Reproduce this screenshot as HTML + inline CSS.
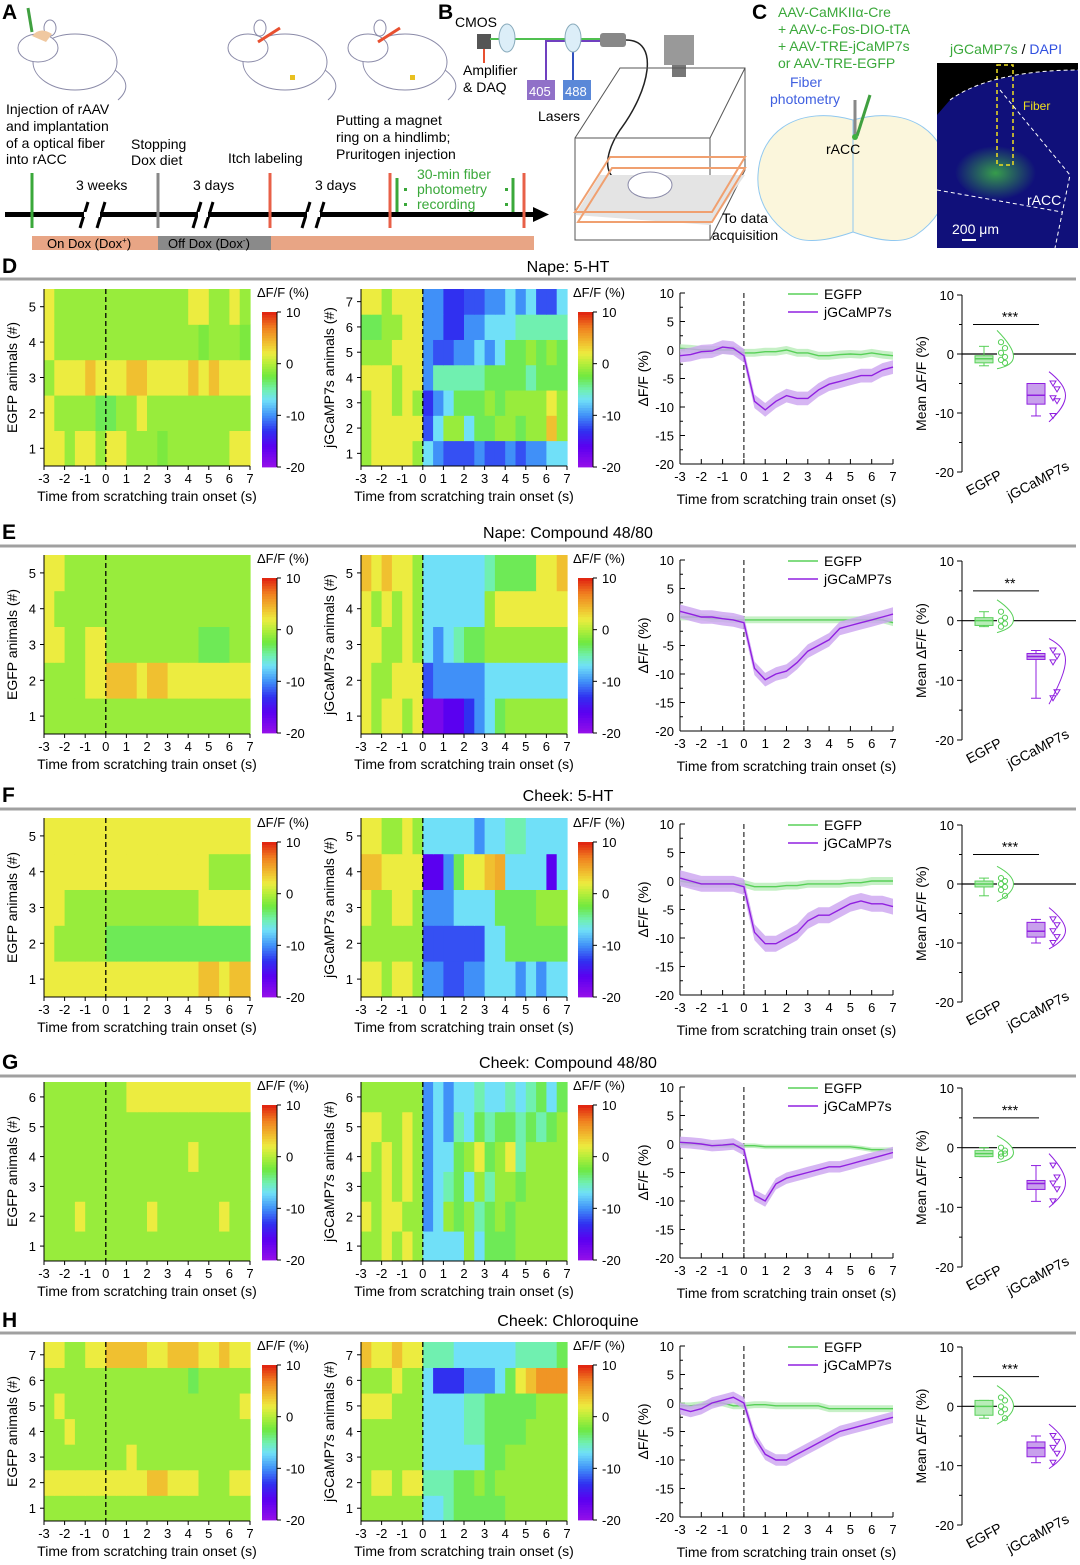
<!DOCTYPE html>
<html><head><meta charset="utf-8"><style>
html,body{margin:0;padding:0;background:#fff;}
svg{display:block;font-family:"Liberation Sans",Arial,sans-serif;}
</style></head><body>
<svg id="fig" width="1080" height="1565" viewBox="0 0 1080 1565" xmlns="http://www.w3.org/2000/svg">
<defs>
<radialGradient id="glow" cx="0.45" cy="0.55" r="0.45"><stop offset="0" stop-color="#40c040" stop-opacity="0.8"/><stop offset="1" stop-color="#40c040" stop-opacity="0"/></radialGradient>
</defs>
<!-- Panel A -->
<g font-size="14">
<text x="2" y="19" font-size="21" font-weight="bold">A</text>
<g fill="#fff" stroke="#8a8aa8" stroke-width="1">
<ellipse cx="75" cy="62" rx="42" ry="28"/><ellipse cx="38" cy="48" rx="20" ry="14"/><ellipse cx="50" cy="28" rx="6" ry="8"/><path d="M115 70 Q135 85 118 100" fill="none"/>
<path d="M32 36 q8 -10 20 -2 l-6 8 z" fill="#f0c8a0" stroke="none"/><line x1="28" y1="8" x2="32" y2="32" stroke="#40a040" stroke-width="3"/></g>
<g fill="#fff" stroke="#8a8aa8" stroke-width="1">
<ellipse cx="285" cy="62" rx="42" ry="28"/><ellipse cx="248" cy="48" rx="20" ry="14"/><ellipse cx="260" cy="28" rx="6" ry="8"/><path d="M325 70 Q345 85 328 100" fill="none"/>
<line x1="258" y1="42" x2="280" y2="28" stroke="#e85030" stroke-width="3"/><rect x="290" y="75" width="5" height="5" fill="#e8c020" stroke="none"/></g>
<g fill="#fff" stroke="#8a8aa8" stroke-width="1">
<ellipse cx="405" cy="62" rx="42" ry="28"/><ellipse cx="368" cy="48" rx="20" ry="14"/><ellipse cx="380" cy="28" rx="6" ry="8"/><path d="M445 70 Q465 85 448 100" fill="none"/>
<line x1="378" y1="42" x2="400" y2="28" stroke="#e85030" stroke-width="3"/><rect x="410" y="75" width="5" height="5" fill="#e8c020" stroke="none"/></g>
<text x="6" y="114">Injection of rAAV</text><text x="6" y="131">and implantation</text><text x="6" y="148">of a optical fiber</text><text x="6" y="164">into rACC</text>
<text x="131" y="149">Stopping</text><text x="131" y="165">Dox diet</text>
<text x="228" y="163">Itch labeling</text>
<text x="336" y="125">Putting a magnet</text><text x="336" y="142">ring on a hindlimb;</text><text x="336" y="159">Pruritogen injection</text>
<text x="76" y="190">3 weeks</text><text x="193" y="190">3 days</text><text x="315" y="190">3 days</text>
<g fill="#3aa83a"><text x="417" y="179">30-min fiber</text><text x="417" y="194">photometry</text><text x="417" y="209">recording</text>
<rect x="404" y="188" width="3" height="3"/><rect x="404" y="203" width="3" height="3"/><rect x="505" y="188" width="3" height="3"/><rect x="505" y="203" width="3" height="3"/></g>
<rect x="5" y="212" width="530" height="5" fill="#000"/>
<polygon points="533,207 549,214.5 533,222" fill="#000"/>
<g stroke="#000" stroke-width="3"><line x1="80" y1="228" x2="88" y2="202"/><line x1="97" y1="228" x2="105" y2="202"/><line x1="193" y1="228" x2="201" y2="202"/><line x1="205" y1="228" x2="213" y2="202"/><line x1="302" y1="228" x2="310" y2="202"/><line x1="316" y1="228" x2="324" y2="202"/></g>
<g stroke="#fff" stroke-width="5"><line x1="84" y1="214.5" x2="100" y2="214.5"/><line x1="198" y1="214.5" x2="208" y2="214.5"/><line x1="307" y1="214.5" x2="320" y2="214.5"/></g>
<g stroke-width="3"><line x1="32" y1="173" x2="32" y2="228" stroke="#3aa83a"/><line x1="158" y1="173" x2="158" y2="228" stroke="#888"/><line x1="270" y1="173" x2="270" y2="228" stroke="#e86048"/><line x1="390" y1="173" x2="390" y2="228" stroke="#e86048"/><line x1="397" y1="178" x2="397" y2="212" stroke="#3aa83a"/><line x1="513" y1="178" x2="513" y2="212" stroke="#3aa83a"/><line x1="524" y1="173" x2="524" y2="228" stroke="#e86048"/></g>
<rect x="32" y="236" width="502" height="14" fill="#e8a585"/>
<rect x="158" y="236" width="113" height="14" fill="#8a8a8a"/>
<text x="47" y="248" font-size="13">On Dox (Dox<tspan font-size="8" dy="-5">+</tspan><tspan dy="5">)</tspan></text>
<text x="168" y="248" font-size="13">Off Dox (Dox<tspan font-size="8" dy="-5">-</tspan><tspan dy="5">)</tspan></text>
</g>
<!-- Panel B -->
<g font-size="14">
<text x="438" y="19" font-size="21" font-weight="bold">B</text>
<text x="455" y="27">CMOS</text>
<rect x="477" y="34" width="14" height="15" fill="#555"/>
<line x1="484" y1="49" x2="484" y2="63" stroke="#e85030" stroke-width="2"/>
<line x1="490" y1="39" x2="600" y2="39" stroke="#50c050" stroke-width="2"/>
<polyline points="600,41 546,41 546,80" fill="none" stroke="#7040c0" stroke-width="2"/>
<line x1="573" y1="42" x2="573" y2="80" stroke="#3050c0" stroke-width="2"/>
<ellipse cx="507" cy="38" rx="8" ry="14" fill="#dceef8" stroke="#8ab"/><ellipse cx="573" cy="38" rx="8" ry="14" fill="#dceef8" stroke="#8ab"/>
<rect x="600" y="33" width="26" height="14" rx="3" fill="#888"/>
<path d="M626 40 C660 40 650 90 620 130 C600 160 605 185 630 180" fill="none" stroke="#222" stroke-width="1.5"/>
<text x="463" y="75">Amplifier</text><text x="463" y="92">&amp; DAQ</text>
<rect x="527" y="80" width="28" height="20" fill="#9070c8"/><text x="529" y="96" fill="#fff" font-size="13">405</text>
<rect x="563" y="80" width="28" height="20" fill="#5a88d8"/><text x="565" y="96" fill="#fff" font-size="13">488</text>
<text x="538" y="121">Lasers</text>
<rect x="664" y="35" width="30" height="30" fill="#999"/><rect x="672" y="65" width="14" height="12" fill="#777"/>
<g fill="none" stroke="#555" stroke-width="1"><rect x="575" y="138" width="135" height="102"/><polyline points="575,138 620,68 745,68 745,170 710,240"/><line x1="710" y1="138" x2="745" y2="68"/></g>
<polygon points="575,215 600,175 745,175 710,225" fill="#e4e4e4"/>
<g fill="none" stroke="#f0a070" stroke-width="2"><polygon points="575,212 610,157 745,157 712,212"/><polygon points="578,222 612,168 745,168 712,222"/></g>
<ellipse cx="650" cy="185" rx="22" ry="13" fill="#fff" stroke="#8a8aa8"/>
<text x="722" y="223">To data</text><text x="712" y="240">acquisition</text>
</g>
<!-- Panel C -->
<g font-size="14">
<text x="752" y="19" font-size="21" font-weight="bold">C</text>
<g fill="#3aa83a"><text x="778" y="17">AAV-CaMKIIα-Cre</text><text x="778" y="34">+ AAV-c-Fos-DIO-tTA</text><text x="778" y="51">+ AAV-TRE-jCaMP7s</text><text x="778" y="68">or  AAV-TRE-EGFP</text></g>
<g fill="#4060e0"><text x="790" y="87">Fiber</text><text x="770" y="104">photometry</text></g>
<path d="M853 120 C800 105 760 130 758 175 C756 205 775 225 790 235 C805 245 830 240 853 232 C876 240 901 245 916 235 C931 225 950 205 948 175 C946 130 906 105 853 120 Z" fill="#fbf6dc" stroke="#90c8f0"/>
<line x1="853" y1="120" x2="853" y2="232" stroke="#90c8f0"/>
<line x1="855" y1="100" x2="855" y2="136" stroke="#888" stroke-width="3"/><line x1="857" y1="136" x2="870" y2="95" stroke="#40a040" stroke-width="3"/>
<circle cx="855" cy="137" r="3" fill="#40b040"/>
<text x="826" y="154">rACC</text>
<text x="950" y="54"><tspan fill="#3aa83a">jGCaMP7s</tspan> / <tspan fill="#3050e0">DAPI</tspan></text>
<rect x="937" y="63" width="141" height="185" fill="#10107a"/>
<path d="M937 63 L1078 63 L1078 70 C1030 70 975 80 950 100 L937 115 Z" fill="#000"/>
<ellipse cx="1000" cy="170" rx="45" ry="30" fill="url(#glow)"/>
<rect x="997" y="65" width="16" height="100" fill="none" stroke="#f0e020" stroke-dasharray="4,3" stroke-width="1.5"/>
<path d="M950 100 C980 78 1030 70 1078 70" fill="none" stroke="#fff" stroke-dasharray="4,3"/>
<path d="M1000 90 L1070 175 L1055 248 M937 190 L1062 212" fill="none" stroke="#fff" stroke-dasharray="4,3"/>
<text x="1023" y="110" fill="#f0e020" font-size="12">Fiber</text>
<text x="1027" y="205" fill="#fff">rACC</text>
<text x="952" y="234" fill="#fff">200 μm</text>
<rect x="962" y="239" width="14" height="2" fill="#fff"/>
</g>
<g id="rows"></g>
</svg>
<script>
// ---------- data ----------
const timeBins = [-3,-2.5,-2,-1.5,-1,-0.5,0,0.5,1,1.5,2,2.5,3,3.5,4,4.5,5,5.5,6,6.5,7];
const xTicks = [-3,-2,-1,0,1,2,3,4,5,6,7];
const lineYTicks = [10,5,0,-5,-10,-15,-20];
const cbTicks = [10,0,-10,-20];
const boxYTicks = [10,0,-10,-20];
const rowTitles = ["Nape:  5-HT","Nape:  Compound 48/80","Cheek:  5-HT","Cheek:  Compound 48/80","Cheek:  Chloroquine"];
const rowLetters = ["D","E","F","G","H"];
const starsText = ["***","**","***","***","***"];

const egfpHeat = [
 [[2,2,-1,2,2,-1,2,2,-1,-1,-1,-2,-1,-1,-1,-1,-1,-1,2,2],[2,-1,-1,-1,-1,-3,-3,-1,-1,2,-1,-1,-1,-1,-1,-1,-1,-1,-1,-1],[-1,2,2,2,4,2,2,2,4,4,2,2,2,2,4,2,4,2,2,2],[2,-1,-1,-1,-1,-1,-1,-1,-1,-1,-1,-1,-1,-1,-1,-2,-1,-1,-1,-2],[2,-1,-1,-1,-1,-1,-1,-1,-1,-1,-1,-1,-1,-1,2,2,-1,-1,2,-1]],
 [[-1,-1,-1,-1,-1,-1,-1,-1,-1,-1,-1,-1,-1,-1,-1,-1,-1,-1,-1,-1],[-1,-1,-1,-1,2,2,4,4,4,2,4,4,2,2,2,2,2,2,2,2],[2,2,-1,-1,2,2,-1,-1,-1,-1,-1,-1,-1,-1,-1,-3,-3,-3,-1,-1],[2,-1,-1,-1,-1,-1,-1,-1,-1,-1,-1,-1,-1,-1,-1,-1,-1,-1,-1,-1],[2,2,-1,-1,-1,-1,-1,-1,-1,-1,-1,-1,-1,-1,-1,-1,-1,-1,-1,-1]],
 [[2,2,2,2,2,2,2,2,2,2,2,2,2,2,2,4,4,2,4,4],[2,-1,-1,-1,-1,-1,-3,-3,-3,-3,-3,-3,-3,-3,-3,-3,-3,-3,-3,-3],[2,2,-1,-1,-1,-1,-1,-1,-1,-1,-1,-1,-1,-1,-1,2,2,2,2,2],[2,2,2,2,2,2,2,2,2,2,2,2,2,2,2,2,-1,-1,-1,-1],[2,2,2,2,2,2,2,2,2,2,2,2,2,2,2,2,2,2,2,2]],
 [[-1,-1,-1,-1,-1,-1,-1,-1,-1,-1,-1,-1,-1,-1,-1,-1,-1,-1,-1,-1],[-1,-1,-1,2,-1,-1,-1,-1,-1,-1,2,-1,-1,-1,-1,-1,-1,2,-1,-1],[-1,-1,-1,-1,-1,-1,-1,-1,-1,-1,-1,-1,-1,-1,-1,-1,-1,-1,-1,-1],[-1,-1,-1,-1,-1,-1,-1,-1,-1,-1,-1,-1,-1,-1,2,-1,-1,-1,-1,-1],[-1,-1,-1,-1,-1,-1,-1,-1,-1,-1,-1,-1,-1,-1,-1,-1,-1,-1,-1,-1],[-1,-1,-1,-1,-1,-1,-1,-1,2,2,2,2,2,2,2,2,2,2,2,2]],
 [[-1,-1,-1,-1,-1,-1,-1,-1,-1,-1,-1,-1,-1,-1,-1,-1,-1,-1,-1,-1],[2,2,2,2,2,2,2,2,2,2,4,4,2,2,2,-1,-1,-1,2,2],[-1,-1,-1,-1,-1,-1,-1,-1,2,-1,-1,-1,-1,-1,-1,-1,-1,-1,-1,-1],[-1,-1,2,-1,-1,-1,-1,-1,-1,-1,-1,-1,-1,-1,-1,-1,-1,-1,-1,-1],[-1,2,-1,-1,-1,-1,-1,-1,-1,-1,-1,-1,-1,-1,-1,-1,-1,-1,-1,2],[-1,-1,-1,-1,-1,-1,-1,-1,-1,-1,-1,-1,-1,-1,-3,-1,-1,-1,-1,-1],[2,2,-1,-1,2,2,4,4,4,4,2,2,4,4,4,2,2,4,2,2]]
];
const jgHeat = [
 [[-1,2,2,2,2,-1,-7,-10,-12,-12,-12,-10,-12,-12,-10,-12,-10,-10,-7,-7],[-1,2,2,2,2,2,-12,-7,-1,-1,-7,-3,-3,-1,-1,-3,-1,-1,4,-1],[-1,2,2,-1,2,-1,-13,-10,-7,-3,-3,-3,-1,-3,-1,-1,-1,-1,2,-1],[2,2,2,-1,2,2,-10,-5,-5,-5,-5,-5,-3,-3,-3,-3,-5,-3,-3,-3],[-1,-1,-1,2,2,2,-10,-12,-12,-10,-10,-7,-10,-7,-3,-3,-1,-3,-1,-3],[-3,-3,-1,-1,2,2,-10,-10,-13,-13,-10,-10,-7,-7,-7,-5,-5,-5,-5,-5],[2,2,-1,2,2,2,-10,-10,-13,-13,-12,-12,-10,-10,-7,-10,-7,-12,-12,-7]],
 [[2,-1,2,2,-1,2,-18,-18,-16,-16,-13,-10,-7,-3,-1,-1,-1,-1,-1,-1],[2,-1,-1,2,2,2,-12,-10,-10,-10,-10,-10,-7,-7,-7,-7,-7,-7,-7,-7],[2,2,-1,-1,2,-1,-7,-10,-7,-5,-3,-3,-1,-1,-1,-1,-1,-1,-1,-1],[2,-1,2,-1,2,-1,-7,-7,-7,-7,-7,-7,-1,2,2,2,2,2,2,2],[4,2,4,2,2,-1,-7,-7,-7,-7,-7,-7,-5,-3,-3,-3,-3,2,2,4]],
 [[2,2,-1,2,2,-1,-10,-10,-12,-12,-10,-10,-7,-7,-7,-10,-7,-10,-7,-7],[-1,-1,-1,-1,-1,-1,-12,-12,-12,-12,-12,-12,-7,-7,-3,-3,-3,-3,-3,-3],[2,-1,-1,2,2,-1,-10,-10,-10,-7,-7,-7,-7,-3,-3,-3,-3,-1,-1,-1],[4,4,2,2,2,2,-16,-16,-10,-3,2,2,4,5,-7,-7,-7,-7,-16,-7],[2,2,-1,-1,2,-1,-7,-7,-7,-7,-7,-10,-7,-7,-5,-5,-7,-7,-7,-7]],
 [[-1,-1,2,-1,2,-1,-7,-7,-7,-7,-1,-7,-3,-3,-3,-1,-1,-1,-1,-1],[2,-1,2,2,-1,-1,-10,-7,-1,-3,-1,-5,-3,-1,-3,-1,-1,-1,-1,-1],[-1,-1,2,-1,2,-1,-10,-7,-5,-3,-7,-1,-5,-1,-1,-3,-1,-1,-1,-1],[2,-1,2,-1,2,-1,-10,-7,-7,-3,-1,2,-3,-1,2,-5,-1,-1,-1,-1],[2,2,-1,-1,2,-1,-10,-7,-10,-5,-7,-3,-5,-3,-3,-5,-3,-5,-3,-1],[-1,-1,-1,-1,-1,-1,-10,-7,-10,-7,-7,-5,-7,-7,-5,-7,-5,-3,-7,-3]],
 [[-1,-1,-1,-1,-1,-1,-7,-7,-5,-3,-3,-3,-3,-3,-1,-1,-1,-1,-1,-1],[-1,2,2,-1,2,2,-5,-5,-5,-3,-3,-1,-3,-1,-1,-1,-1,-1,-1,-1],[-1,-1,-1,-1,-1,-1,-7,-7,-7,-7,-7,-7,-3,-3,-1,-1,-1,-1,-1,-1],[-1,-1,-1,-1,-1,-1,-7,-7,-7,-7,-5,-5,-3,-3,-3,-3,-1,-1,-1,-1],[2,2,2,-1,-1,-1,-7,-7,-7,-7,-5,-5,-3,-3,-3,-3,-3,-1,-1,-1],[-1,-1,-1,2,-1,-1,-7,-13,-13,-13,-10,-10,-10,-7,-3,2,4,6,6,6],[4,2,2,4,2,2,-5,-5,-5,-7,-7,-7,-7,-7,-7,-5,-5,-5,-5,-3]]
];
const jgMean = [
 [-1,-0.8,-0.3,-0.2,0.5,0.3,-1,-9,-10.5,-9,-8,-8.5,-8.5,-7,-6,-5.5,-5,-4.5,-4.5,-3.5,-3],
 [1,0.5,0,0,-0.3,-0.5,-1,-9,-11,-10,-9.5,-8,-6,-5,-4,-2,-1.5,-1,-0.5,0,0.5],
 [0.5,0,-0.5,-0.5,-0.5,-0.5,-1,-9,-11,-11,-10,-9,-7,-6,-6,-5,-4,-3.5,-4,-4,-4.5],
 [0.3,0.2,0,-0.3,-0.2,0,-1,-9,-10,-7,-6,-5.5,-5,-4.5,-4,-4,-3.5,-3,-2.5,-2,-1.5],
 [-1,-1.5,-1,0,0.5,1,0,-6,-9,-10,-10,-9,-8,-7,-6,-5,-4.5,-4,-3.5,-3,-2.5]
];
const egfpMean = [
 [0.3,0.2,0,0,0,0,-0.5,-0.5,-0.3,-0.3,0,-0.5,-0.5,-1,-1,-0.8,-0.7,-0.8,-0.5,-0.8,-1],
 [0,0,0,-0.3,-0.3,-0.5,-0.5,-0.5,-0.5,-0.5,-0.5,-0.5,-0.5,-0.5,-0.5,-0.5,-0.5,-0.5,-0.5,-0.5,-1],
 [0,-0.3,-0.5,-0.5,-0.5,-0.5,-0.5,-1,-1,-1,-0.8,-0.8,-0.5,-0.5,-0.5,-0.5,-0.3,-0.3,0,0,0],
 [0,0,0,-0.3,-0.3,-0.3,-0.3,-0.3,-0.5,-0.5,-0.5,-0.5,-0.5,-0.5,-0.5,-0.5,-0.5,-0.7,-1,-1,-1],
 [-0.5,-0.5,-0.3,0,0,-0.5,-0.5,-0.3,-0.3,-0.5,-0.5,-0.5,-0.5,-0.5,-1,-1,-1,-1,-1,-1,-1]
];
const jgSem = [1.2,1.2,1.4,1.0,1.0];
const egfpSem = [0.7,0.6,0.7,0.4,0.6];
// box stats: [whiskerMin, q1, median, q3, whiskerMax]
const egfpBox = [[-2,-1.5,-0.8,-0.3,1.3],[-1,-0.8,0,0.5,1.5],[-2,-0.5,0,0.5,1],[-1.5,-1.5,-1,-0.5,0],[-2,-1.5,0,1,1]];
const jgBox = [[-10.5,-8.5,-7,-5,-5],[-13,-6.5,-6,-5.5,-5],[-10,-9,-8,-6.5,-6],[-9,-7,-6,-5.5,-3],[-9.5,-8.5,-7,-6,-5]];
const egfpPts = [[2,1,0.2,-0.5,-1,-1.5],[1.5,0.5,0,-0.5,-1],[1,0.5,0,-0.5,-1,-2],[0,-0.5,-1,-1,-1.5],[1.5,1,0,-0.5,-1,-2]];
const jgPts = [[-5,-6,-7.5,-8,-10.5],[-5,-6,-7,-12,-13],[-6,-7,-8,-9,-10],[-3,-5,-6,-7,-9],[-5,-6,-7,-8,-9.5]];

// ---------- layout ----------
const rowsL = [
 {hy:266, ly:279, hm:[289,466], cb:[312,467], lc:[293,464], bx:[295,472]},
 {hy:532, ly:546, hm:[555,734], cb:[578,733], lc:[560,731], bx:[561,740]},
 {hy:795, ly:809, hm:[818,997], cb:[842,997], lc:[824,995], bx:[825,1002]},
 {hy:1062,ly:1076,hm:[1082,1261],cb:[1105,1260],lc:[1087,1258],bx:[1088,1267]},
 {hy:1320,ly:1333,hm:[1342,1521],cb:[1365,1520],lc:[1346,1517],bx:[1347,1525]}
];
const NS="http://www.w3.org/2000/svg";
const root=document.getElementById('rows');
function mk(tag,attrs,parent,txt){const e=document.createElementNS(NS,tag);for(const k in attrs)e.setAttribute(k,attrs[k]);if(txt!==undefined)e.textContent=txt;(parent||root).appendChild(e);return e;}
const stops=[[-20,[150,16,232]],[-16,[90,0,240]],[-13,[48,48,240]],[-10,[64,144,248]],[-7,[112,224,248]],[-5,[112,240,176]],[-2.5,[110,232,64]],[0,[180,238,58]],[2,[236,236,64]],[4,[240,192,48]],[7,[240,128,32]],[10,[224,32,16]]];
function cmap(v){v=Math.max(-20,Math.min(10,v));for(let i=0;i<stops.length-1;i++){const a=stops[i],b=stops[i+1];if(v<=b[0]){const t=(v-a[0])/(b[0]-a[0]);const c=a[1].map((x,j)=>Math.round(x+(b[1][j]-x)*t));return `rgb(${c})`;}}return 'rgb(224,32,16)';}
const F="font-size";

function heatmap(g,data,x0,x1,top,bot,ylab){
  const tx=t=>x0+(t+3)/10*(x1-x0);
  const n=data.length, rh=(bot-top)/n, nb=data[0].length, bw=(x1-x0)/nb;
  data.forEach((row,i)=>{row.forEach((v,j)=>{
    const r=mk('rect',{x:(x0+j*bw).toFixed(2),y:(bot-(i+1)*rh).toFixed(2),width:(bw+0.6).toFixed(2),height:(rh+0.4).toFixed(2),fill:cmap(v)},g);
    
    
  });});
  mk('line',{x1:tx(0),x2:tx(0),y1:top,y2:bot,stroke:'#000','stroke-dasharray':'5,3','stroke-width':1.3},g);
  mk('line',{x1:x0,x2:x1,y1:bot,y2:bot,stroke:'#000'},g);
  mk('line',{x1:x0,x2:x0,y1:top,y2:bot,stroke:'#000'},g);
  xTicks.forEach(t=>{mk('line',{x1:tx(t),x2:tx(t),y1:bot,y2:bot+4,stroke:'#000'},g);mk('text',{x:tx(t),y:bot+17,'text-anchor':'middle',[F]:13},g,String(t));});
  for(let i=0;i<n;i++){const y=bot-(i+0.5)*rh;mk('line',{x1:x0-4,x2:x0,y1:y,y2:y,stroke:'#000'},g);mk('text',{x:x0-8,y:y+5,'text-anchor':'end',[F]:13},g,String(i+1));}
  const yl=mk('text',{x:0,y:0,'text-anchor':'middle',[F]:14,transform:`translate(${x0-27},${(top+bot)/2}) rotate(-90)`},g,ylab);
  
  const xt=mk('text',{x:(x0+x1)/2,y:bot+35,'text-anchor':'middle',[F]:14},g,'Time from scratching train onset (s)');
  
}
function colorbar(g,x,top,bot){
  const N=60;
  for(let i=0;i<N;i++){const v=-20+30*(i+0.5)/N;const h=(bot-top)/N;mk('rect',{x:x,y:(bot-(i+1)*h).toFixed(2),width:15,height:(h+0.4).toFixed(2),fill:cmap(v)},g);}
  cbTicks.forEach(v=>{const y=bot-(v+20)/30*(bot-top);mk('line',{x1:x+15,x2:x+19,y1:y,y2:y,stroke:'#000'},g);mk('text',{x:x+24,y:y+5,[F]:13},g,String(v));});
  mk('line',{x1:x+15,x2:x+15,y1:top,y2:bot,stroke:'#000'},g);
  mk('text',{x:x+21,y:top-15,'text-anchor':'middle',[F]:13},g,'ΔF/F (%)');
}
function lineChart(g,r,k){
  const x0=680,x1=893,[top,bot]=r.lc;
  const sx=t=>x0+(t+3)/10*(x1-x0), sy=v=>top+(10-v)/30*(bot-top);
  mk('line',{x1:x0,x2:x0,y1:top,y2:bot,stroke:'#000'},g);mk('line',{x1:x0,x2:x1,y1:bot,y2:bot,stroke:'#000'},g);
  lineYTicks.forEach(v=>{mk('line',{x1:x0,x2:x0+5,y1:sy(v),y2:sy(v),stroke:'#000'},g);mk('text',{x:x0-6,y:sy(v)+5,'text-anchor':'end',[F]:13},g,String(v));});
  for(let v=-17.5;v<10;v+=5)mk('line',{x1:x0,x2:x0+3,y1:sy(v),y2:sy(v),stroke:'#000'},g);
  xTicks.forEach(t=>{mk('line',{x1:sx(t),x2:sx(t),y1:bot,y2:bot-5,stroke:'#000'},g);mk('text',{x:sx(t),y:bot+17,'text-anchor':'middle',[F]:13},g,String(t));});
  mk('line',{x1:sx(0),x2:sx(0),y1:top,y2:bot,stroke:'#000','stroke-dasharray':'5,3'},g);
  const series=[[egfpMean[k],egfpSem[k],'#58d058','#b8ecb8','egfp'],[jgMean[k],jgSem[k],'#9020e0','#cca4f0','jgcamp7s']];
  series.forEach(([m,s,c,bc,nm])=>{
    const up=m.map((v,i)=>`${sx(timeBins[i]).toFixed(1)},${sy(v+s).toFixed(1)}`);
    const dn=m.map((v,i)=>`${sx(timeBins[i]).toFixed(1)},${sy(v-s).toFixed(1)}`).reverse();
    const band=mk('polygon',{points:up.concat(dn).join(' '),fill:bc,opacity:0.8},g);
    
    const pl=mk('polyline',{points:m.map((v,i)=>`${sx(timeBins[i]).toFixed(1)},${sy(v).toFixed(1)}`).join(' '),fill:'none',stroke:c,'stroke-width':1.4},g);
    
  });
  mk('line',{x1:788,x2:818,y1:top+1,y2:top+1,stroke:'#58d058','stroke-width':1.4},g);mk('text',{x:824,y:top+6,[F]:14},g,'EGFP');
  mk('line',{x1:788,x2:818,y1:top+19,y2:top+19,stroke:'#9020e0','stroke-width':1.4},g);mk('text',{x:824,y:top+24,[F]:14},g,'jGCaMP7s');
  const yt=mk('text',{x:0,y:0,'text-anchor':'middle',[F]:14,transform:`translate(${x0-32},${(top+bot)/2}) rotate(-90)`},g,'ΔF/F (%)');
  
  mk('text',{x:(x0+x1)/2,y:bot+40,'text-anchor':'middle',[F]:14},g,'Time from scratching train onset (s)');
}
function boxChart(g,r,k){
  const ax=962,[top,bot]=r.bx;const sy=v=>top+(10-v)/30*(bot-top);
  mk('line',{x1:ax,x2:ax,y1:top,y2:bot,stroke:'#000'},g);
  boxYTicks.forEach(v=>{mk('line',{x1:ax-5,x2:ax,y1:sy(v),y2:sy(v),stroke:'#000'},g);mk('text',{x:ax-8,y:sy(v)+5,'text-anchor':'end',[F]:13},g,String(v));});
  for(let v=-15;v<10;v+=10)mk('line',{x1:ax-3,x2:ax,y1:sy(v),y2:sy(v),stroke:'#000'},g);
  mk('line',{x1:ax,x2:1076,y1:sy(0),y2:sy(0),stroke:'#000','stroke-width':1.2},g);
  const groups=[[egfpBox[k],egfpPts[k],984,'#58d058','#b8ecb8','egfp','circle'],[jgBox[k],jgPts[k],1036,'#9020e0','#c8a0ec','jgcamp7s','tri']];
  groups.forEach(([b,pts,cx,c,fc,nm,sh])=>{
    mk('line',{x1:cx,x2:cx,y1:sy(b[0]),y2:sy(b[4]),stroke:c},g);
    mk('line',{x1:cx-5,x2:cx+5,y1:sy(b[0]),y2:sy(b[0]),stroke:c},g);mk('line',{x1:cx-5,x2:cx+5,y1:sy(b[4]),y2:sy(b[4]),stroke:c},g);
    const bx=mk('rect',{x:cx-9,y:sy(b[3]),width:18,height:Math.max(1,sy(b[1])-sy(b[3])),fill:fc,stroke:c},g);
    
    mk('line',{x1:cx-9,x2:cx+9,y1:sy(b[2]),y2:sy(b[2]),stroke:c,'stroke-width':1.5},g);
    const vx=cx+13, mx=Math.max(...pts), mn=Math.min(...pts), md=b[2];
    const vp=mk('path',{d:`M${vx},${sy(mx+2)} C${vx+22},${sy(md+1)} ${vx+22},${sy(md-1)} ${vx},${sy(mn-1)}`,fill:'#fff',stroke:c},g);
    
    pts.forEach((v,i)=>{const px=vx+4+(i%2)*4, py=sy(v);
      let p; if(sh==='circle')p=mk('circle',{cx:px,cy:py,r:2.6,fill:'none',stroke:c},g);
      else p=mk('polygon',{points:`${px-3},${py-2.5} ${px+3},${py-2.5} ${px},${py+2.5}`,fill:'none',stroke:c},g);
      });
  });
  mk('line',{x1:973,x2:1039,y1:sy(5),y2:sy(5),stroke:'#000'},g);
  mk('text',{x:1010,y:sy(5)-3,'text-anchor':'middle',[F]:14},g,starsText[k]);
  mk('text',{x:0,y:0,'text-anchor':'end',[F]:14,transform:`translate(1003,${bot+6}) rotate(-28)`},g,'EGFP');
  mk('text',{x:0,y:0,'text-anchor':'end',[F]:14,transform:`translate(1070,${bot-3}) rotate(-28)`},g,'jGCaMP7s');
  mk('text',{x:0,y:0,'text-anchor':'middle',[F]:14,transform:`translate(926,${(top+bot)/2}) rotate(-90)`},g,'Mean ΔF/F (%)');
}
rowsL.forEach((r,k)=>{
  const g=mk('g',{});
  
  
  mk('text',{x:2,y:r.hy+7,[F]:21,'font-weight':'bold'},g,rowLetters[k]);
  const ht=mk('text',{x:568,y:r.hy+6,'text-anchor':'middle',[F]:16},g,rowTitles[k]);
  
  mk('rect',{x:0,y:r.ly-1.5,width:1076,height:3,fill:'#a0a0a0'},g);
  const g1=mk('g',{},g);
  heatmap(g1,egfpHeat[k],44,250,r.hm[0],r.hm[1],'EGFP animals (#)');
  colorbar(g1,262,r.cb[0],r.cb[1]);
  const g2=mk('g',{},g);
  heatmap(g2,jgHeat[k],361,567,r.hm[0],r.hm[1],'jGCaMP7s animals (#)');
  colorbar(g2,578,r.cb[0],r.cb[1]);
  const g3=mk('g',{},g);
  lineChart(g3,r,k);
  const g4=mk('g',{},g);
  boxChart(g4,r,k);
});
</script>
</body></html>
